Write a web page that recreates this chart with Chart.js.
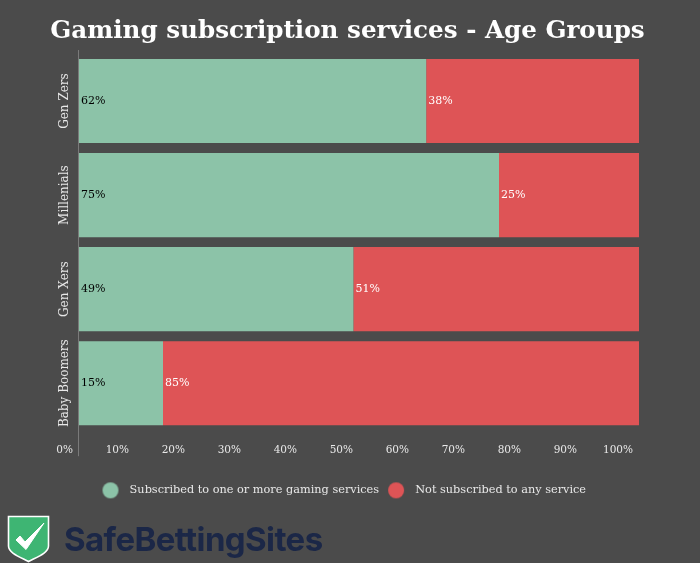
<!DOCTYPE html>
<html>
<head>
<meta charset="utf-8">
<style>
html, body { margin: 0; padding: 0; background: #4b4b4b; }
#wrap { position: relative; width: 700px; height: 563px; overflow: hidden; }
#logo { position: absolute; left: 7px; top: 515px; }
#brand { position: absolute; left: 64px; top: 519px; font: 700 33px Inter, sans-serif; letter-spacing: -0.6px; color: #1b2747; white-space: nowrap; }
</style>
<script src="https://cdn.jsdelivr.net/npm/chart.js@4"></script>
</head>
<body>
<div id="wrap">
  <canvas id="ageChart" width="700" height="563"></canvas>
  <svg id="logo" width="44" height="48" viewBox="0 0 44 48">
    <path d="M1.5 1.5H41.5V31C41.5 38 30 42 21.5 46.5C13 42 1.5 38 1.5 31Z" fill="#3eb573" stroke="#fff" stroke-width="1.6"/>
    <path d="M9 25L13 21L18 27L37 8L19 34.5Z" fill="#fff" stroke="#fff" stroke-width="1" stroke-linejoin="round"/>
  </svg>
  <div id="brand">SafeBettingSites</div>
</div>
<script>
const FONT = '"DejaVu Serif", serif';
const GREEN = '#8cc3a8';
const RED = '#de5456';
const groups = ['Gen Zers', 'Millenials', 'Gen Xers', 'Baby Boomers'];
const subscribed = [62, 75, 49, 15];
const notSubscribed = [38, 25, 51, 85];

// round legend marker, the box around it is wider than the circle
function legendDot(color) {
    const c = document.createElement('canvas');
    c.width = 18;
    c.height = 18;
    const g = c.getContext('2d');
    g.fillStyle = color;
    g.beginPath();
    g.arc(9, 9, 8, 0, Math.PI * 2);
    g.fill();
    return c;
}

// percent labels at the start of each bar piece
const barLabels = {
    id: 'barLabels',
    afterDatasetsDraw(chart) {
        const ctx = chart.ctx;
        ctx.save();
        ctx.font = '11px ' + FONT;
        ctx.textAlign = 'left';
        ctx.textBaseline = 'middle';
        chart.data.datasets.forEach((ds, i) => {
            ctx.fillStyle = i === 0 ? '#000000' : '#ffffff';
            chart.getDatasetMeta(i).data.forEach((bar, j) => {
                ctx.fillText(ds.data[j] + '%', bar.base + 2, bar.y);
            });
        });
        ctx.restore();
    }
};

// y axis line runs past the last band in the original
const axisLine = {
    id: 'axisLine',
    afterDraw(chart) {
        const ctx = chart.ctx;
        const x = chart.scales.x.getPixelForValue(0);
        ctx.save();
        ctx.strokeStyle = '#7a7a7a';
        ctx.lineWidth = 1;
        ctx.beginPath();
        ctx.moveTo(x - 0.5, chart.chartArea.top - 4);
        ctx.lineTo(x - 0.5, chart.chartArea.bottom + 26);
        ctx.stroke();
        ctx.restore();
    }
};

// legend sits a little left of the title centre
const legendShift = {
    id: 'legendShift',
    afterLayout(chart) {
        chart.legend.left -= 6;
        chart.legend.right -= 6;
    }
};

new Chart(document.getElementById('ageChart').getContext('2d'), {
    type: 'bar',
    data: {
        labels: groups,
        datasets: [
            { label: 'Subscribed to one or more gaming services', data: subscribed, backgroundColor: GREEN, categoryPercentage: 1, barPercentage: 0.894 },
            { label: 'Not subscribed to any service', data: notSubscribed, backgroundColor: RED, categoryPercentage: 1, barPercentage: 0.894 }
        ]
    },
    options: {
        indexAxis: 'y',
        responsive: false,
        animation: false,
        layout: { padding: { left: 0, right: 5, top: 0, bottom: 57 } },
        scales: {
            x: {
                stacked: true,
                min: 0,
                max: 100,
                grid: { display: false, drawTicks: false },
                border: { display: false },
                afterFit(scale) { scale.height = 51; },
                ticks: {
                    stepSize: 10,
                    align: 'end',
                    labelOffset: -6,
                    padding: 14,
                    maxRotation: 0,
                    color: '#e8e8e8',
                    font: { family: FONT, size: 10.5 },
                    callback: v => v + '%'
                }
            },
            y: {
                stacked: true,
                grid: { display: false, drawTicks: false },
                border: { display: false },
                afterFit(scale) { scale.width = 79; },
                ticks: {
                    minRotation: 90,
                    maxRotation: 90,
                    crossAlign: 'center',
                    padding: -30,
                    color: '#e8e8e8',
                    font: { family: FONT, size: 12 }
                }
            },
            // empty axis, only keeps the right margin of the plot
            rightMargin: {
                axis: 'y',
                position: 'right',
                grid: { display: false, drawTicks: false },
                border: { display: false },
                ticks: { display: false },
                afterFit(scale) { scale.width = 56; }
            }
        },
        plugins: {
            title: {
                display: true,
                text: 'Gaming subscription services - Age Groups',
                color: '#ffffff',
                font: { family: FONT, size: 24.6, weight: 'bold' },
                padding: { top: 17, bottom: 7.5 }
            },
            legend: {
                position: 'bottom',
                labels: {
                    usePointStyle: true,
                    pointStyleWidth: 27,
                    boxWidth: 27,
                    boxHeight: 11.3,
                    color: '#e8e8e8',
                    font: { family: FONT, size: 11.3 },
                    padding: 3.5,
                    generateLabels(chart) {
                        return Chart.defaults.plugins.legend.labels.generateLabels(chart).map((item, i) => {
                            item.pointStyle = legendDot(i === 0 ? GREEN : RED);
                            item.lineWidth = 0;
                            return item;
                        });
                    }
                }
            },
            tooltip: { enabled: false }
        }
    },
    plugins: [barLabels, axisLine, legendShift]
});
</script>
</body>
</html>
